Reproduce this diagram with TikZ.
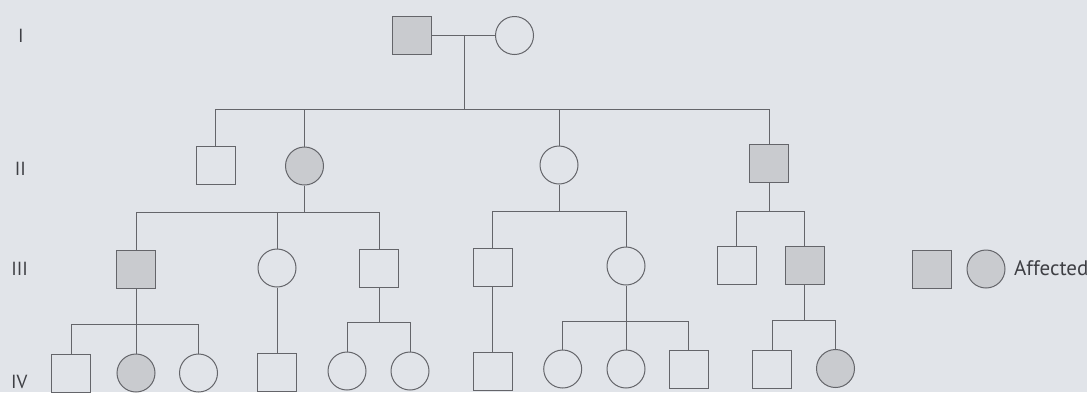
\documentclass[tikz,border=0pt]{standalone}
\usepackage{fontspec}
\setmainfont{PT Sans}
\definecolor{bg}{RGB}{225,228,233}
\definecolor{ln}{RGB}{100,101,106}
\definecolor{aff}{RGB}{201,203,207}
\definecolor{txt}{RGB}{62,63,68}
\begin{document}
\begin{tikzpicture}[x=1pt,y=-1pt,
  male/.style={draw=ln, line width=1pt, rectangle, minimum width=39pt, minimum height=38pt, inner sep=0pt},
  female/.style={draw=ln, line width=1pt, circle, minimum size=38pt, inner sep=0pt},
  affected/.style={fill=aff},
  link/.style={draw=ln, line width=1pt},
  gen/.style={font=\fontsize{19}{22}\selectfont, text=txt, inner sep=0pt},
  legendtext/.style={font=\fontsize{21}{24}\selectfont, text=txt, inner sep=0pt}]
\fill[bg] (0,0) rectangle (1087,392);
\useasboundingbox (0,0) rectangle (1087,392);
\clip (0,0) rectangle (1087,392);

% generation labels
\node[gen] (gI) at (21,36) {I};
\node[gen] (gII) at (20.5,169) {II};
\node[gen] (gIII) at (19.7,268.7) {III};
\node[gen] (gIV) at (19.3,381.5) {IV};

% generation I
\node[male,affected] (I1) at (412,35.5) {};
\node[female] (I2) at (514.5,35.5) {};

% generation II
\node[male] (II1) at (215.5,165) {};
\node[female,affected] (II2) at (304.5,166) {};
\node[female] (II3) at (559,165) {};
\node[male,affected] (II4) at (769,163) {};

% generation III
\node[male,affected] (III1) at (136,269) {};
\node[female] (III2) at (277,268) {};
\node[male] (III3) at (379,268) {};
\node[male] (III4) at (492.5,267) {};
\node[female] (III5) at (626,266) {};
\node[male] (III6) at (736.5,265.5) {};
\node[male,affected] (III7) at (804.5,265.5) {};

% generation IV
\node[male] (IV1) at (71,373) {};
\node[female,affected] (IV2) at (136,373) {};
\node[female] (IV3) at (198.5,373) {};
\node[male] (IV4) at (277,372) {};
\node[female] (IV5) at (347,371) {};
\node[female] (IV6) at (410,371) {};
\node[male] (IV7) at (492.5,371) {};
\node[female] (IV8) at (562.7,369) {};
\node[female] (IV9) at (626,369) {};
\node[male] (IV10) at (688.5,369.5) {};
\node[male] (IV11) at (772,369) {};
\node[female,affected] (IV12) at (835.5,368.5) {};

% legend
\node[male,affected] (LM) at (931.7,269.5) {};
\node[female,affected] (LF) at (986,269) {};
\node[legendtext, anchor=base west] (LT) at (1014,275.7) {Affected};

% sibship levels
\coordinate (m1) at (464.5,35.5);
\coordinate (s1) at (0,109);
\coordinate (s2) at (0,212.5);
\coordinate (s3) at (0,211.7);
\coordinate (s4) at (0,211);
\coordinate (s5) at (0,324);
\coordinate (s6) at (0,322.7);
\coordinate (s7) at (0,321);
\coordinate (s8) at (0,320.3);

% I
\draw[link] (I1.east) -- (I2.west);
\draw[link] (m1) -- (m1 |- s1);
\draw[link] (II1.north) -- (II1.north |- s1) -- (II4.north |- s1) -- (II4.north);
\draw[link] (II2.north) -- (II2.north |- s1);
\draw[link] (II3.north) -- (II3.north |- s1);

% II2
\draw[link] (II2.south) -- (II2.south |- s2);
\draw[link] (III1.north) -- (III1.north |- s2) -- (III3.north |- s2) -- (III3.north);
\draw[link] (III2.north) -- (III2.north |- s2);

% II3
\draw[link] (II3.south) -- (II3.south |- s3);
\draw[link] (III4.north) -- (III4.north |- s3) -- (III5.north |- s3) -- (III5.north);

% II4
\draw[link] (II4.south) -- (II4.south |- s4);
\draw[link] (III6.north) -- (III6.north |- s4) -- (III7.north |- s4) -- (III7.north);

% III1
\draw[link] (III1.south) -- (III1.south |- s5);
\draw[link] (IV1.north) -- (IV1.north |- s5) -- (IV3.north |- s5) -- (IV3.north);
\draw[link] (IV2.north) -- (IV2.north |- s5);

% III2
\draw[link] (III2.south) -- (IV4.north);

% III3
\draw[link] (III3.south) -- (III3.south |- s6);
\draw[link] (IV5.north) -- (IV5.north |- s6) -- (IV6.north |- s6) -- (IV6.north);

% III4
\draw[link] (III4.south) -- (IV7.north);

% III5
\draw[link] (III5.south) -- (III5.south |- s7);
\draw[link] (IV8.north) -- (IV8.north |- s7) -- (IV10.north |- s7) -- (IV10.north);
\draw[link] (IV9.north) -- (IV9.north |- s7);

% III7
\draw[link] (III7.south) -- (III7.south |- s8);
\draw[link] (IV11.north) -- (IV11.north |- s8) -- (IV12.north |- s8) -- (IV12.north);
\end{tikzpicture}
\end{document}
